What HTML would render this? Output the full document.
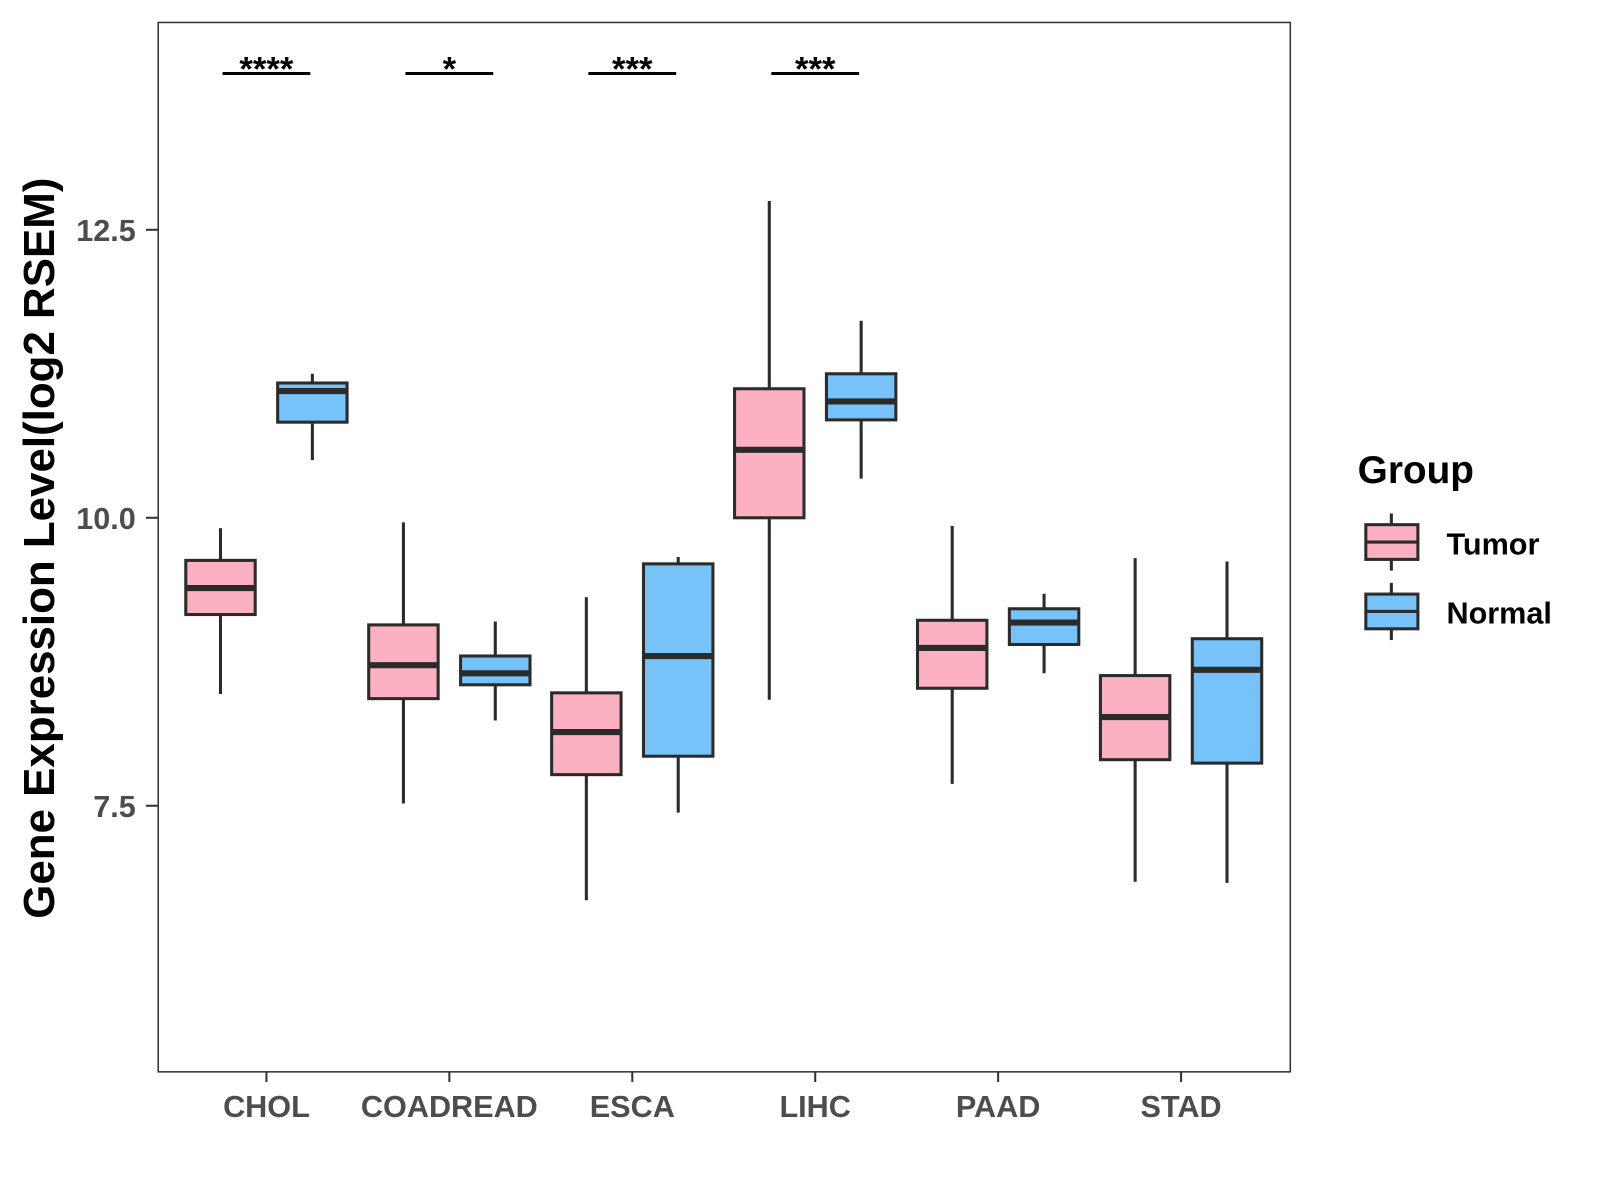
<!DOCTYPE html>
<html><head><meta charset="utf-8"><style>
body{margin:0;background:#fff}
svg{display:block;font-family:"Liberation Sans",Arial,sans-serif}
</style></head><body>
<svg width="1600" height="1200" viewBox="0 0 1600 1200">
<g id="chart" transform="scale(1.0208)">
<text x="53" y="537" transform="rotate(-90 53 537)" text-anchor="middle" font-size="43" font-weight="bold" fill="#000">Gene Expression Level(log2 RSEM)</text>
<text x="1330" y="473" font-size="38" font-weight="bold" fill="#000">Group</text>
<g>
<line x1="1363" x2="1363" y1="503" y2="559" stroke="#2b2b2b" stroke-width="3"/>
<rect x="1338" y="514" width="51" height="34" fill="#fbb1c2" stroke="#2b2b2b" stroke-width="3"/>
<line x1="1338" x2="1389" y1="531" y2="531" stroke="#2b2b2b" stroke-width="3"/>
<text x="1417" y="543" font-size="30" font-weight="bold">Tumor</text>
</g>
<g>
<line x1="1363" x2="1363" y1="571" y2="627" stroke="#2b2b2b" stroke-width="3"/>
<rect x="1338" y="582" width="51" height="34" fill="#77c2f8" stroke="#2b2b2b" stroke-width="3"/>
<line x1="1338" x2="1389" y1="599" y2="599" stroke="#2b2b2b" stroke-width="3"/>
<text x="1417" y="611" font-size="30" font-weight="bold">Normal</text>
</g>
</g>
</svg>
<script>
const categories=["CHOL","COADREAD","ESCA","LIHC","PAAD","STAD"];
const tumorStats=[[8.47,9.16,9.39,9.63,9.91],[7.52,8.43,8.72,9.07,9.96],[6.68,7.77,8.14,8.48,9.31],[8.42,10.0,10.59,11.12,12.75],[7.69,8.52,8.87,9.11,9.93],[6.84,7.90,8.27,8.63,9.65]];
const normalStats=[[10.50,10.83,11.10,11.17,11.25],[8.24,8.55,8.65,8.80,9.10],[7.44,7.93,8.80,9.60,9.66],[10.34,10.85,11.01,11.25,11.71],[8.65,8.90,9.09,9.21,9.34],[6.83,7.87,8.68,8.95,9.62]];
const sigLabels=["****","*","***","***","",""];
const yTicks=[7.5,10.0,12.5];
const yTickLabels=["7.5","10.0","12.5"];
const NS="http://www.w3.org/2000/svg";
const svg=document.getElementById('chart');
const L=155,R=1264,T=22,B=1050;
const yMin=5.19,yMax=14.30;
const y=v=>B-(v-yMin)/(yMax-yMin)*(B-T);
const x=i=>261+i*179.2;
function mk(tag,attrs,parent){const e=document.createElementNS(NS,tag);for(const k in attrs)e.setAttribute(k,attrs[k]);(parent||svg).appendChild(e);return e;}
const panel=mk('rect',{x:L,y:T,width:R-L,height:B-T,fill:'none',stroke:'#333','stroke-width':1.5});


yTicks.forEach((v,i)=>{
 const t=mk('line',{x1:L-12,x2:L,y1:y(v),y2:y(v),stroke:'#333','stroke-width':2});
 
 
 const tx=mk('text',{x:L-22,y:y(v)+11,'text-anchor':'end','font-size':30,'font-weight':'bold',fill:'#4d4d4d'});
 tx.textContent=yTickLabels[i];
 
 
});
function box(s,cx,fill,name){
 const g=mk('g',{});
 
 
 const w=68;
 mk('line',{x1:cx,x2:cx,y1:y(s[0]),y2:y(s[4]),stroke:'#2b2b2b','stroke-width':3},g);
 mk('rect',{x:cx-w/2,y:y(s[3]),width:w,height:y(s[1])-y(s[3]),fill:fill,stroke:'#2b2b2b','stroke-width':3},g);
 mk('line',{x1:cx-w/2,x2:cx+w/2,y1:y(s[2]),y2:y(s[2]),stroke:'#2b2b2b','stroke-width':6},g);
}
categories.forEach((c,i)=>{
 const cx=x(i);
 box(tumorStats[i],cx-45,'#fbb1c2','box-tumor-'+c.toLowerCase());
 box(normalStats[i],cx+45,'#77c2f8','box-normal-'+c.toLowerCase());
 const t=mk('line',{x1:cx,x2:cx,y1:B,y2:B+10,stroke:'#333','stroke-width':2});
 
 
 const tx=mk('text',{x:cx,y:B+44,'text-anchor':'middle','font-size':30,'font-weight':'bold',fill:'#4d4d4d'});
 tx.textContent=c;
 
 
 if(sigLabels[i]){
  const l=mk('line',{x1:cx-43,x2:cx+43,y1:72,y2:72,stroke:'#000','stroke-width':3});
  
  
  const st=mk('text',{x:cx,y:79,'text-anchor':'middle','font-size':34,'font-weight':'bold',fill:'#000'});
  st.textContent=sigLabels[i];
  
  
 }
});
</script>
</body></html>
